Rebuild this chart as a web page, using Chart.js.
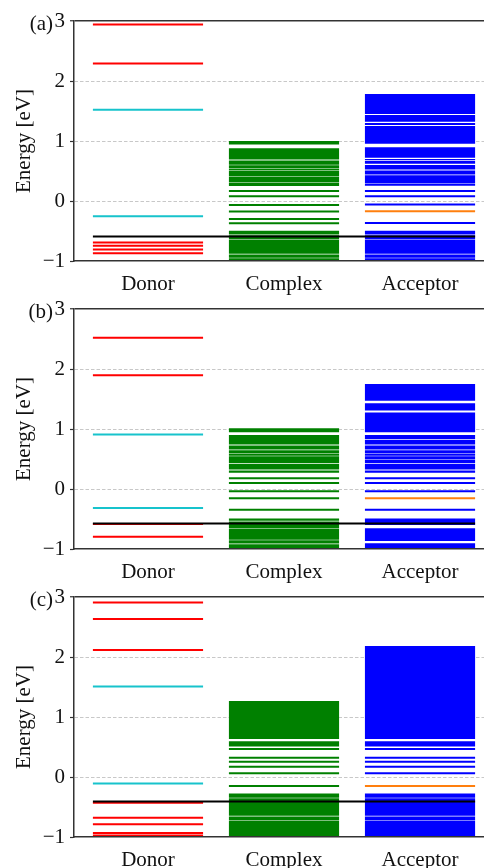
<!DOCTYPE html>
<html><head><meta charset="utf-8">
<script src="https://cdn.jsdelivr.net/npm/chart.js@4.4.1/dist/chart.umd.min.js"></script>
<style>
html,body{margin:0;padding:0;background:#fff;overflow:hidden;}
#wrap{position:relative;width:484px;height:868px;overflow:hidden;background:#fff;}
#wrap canvas{position:absolute;left:0;}
</style></head><body>
<div id="wrap">
<canvas id="c0" width="500" height="310" style="top:0px"></canvas>
<canvas id="c1" width="500" height="310" style="top:288px"></canvas>
<canvas id="c2" width="500" height="310" style="top:576px"></canvas>
</div>
<script>
// ---------------- data ----------------
const categories = ['Donor', 'Complex', 'Acceptor'];
const panelLabels = ['(a)', '(b)', '(c)'];
const yTickValues = [-1, 0, 1, 2, 3];
const yTitle = 'Energy [eV]';

// panel (a)
const donorRed_a = [2.94, 2.29, -0.69, -0.745, -0.81, -0.87];
const donorCyan_a = [1.52, -0.255];
const complexLevels_a = [0.165, 0.08, -0.065, -0.175, -0.30, -0.37];
const complexBands_a = [[0.94, 1.0], [0.70, 0.88], [0.675, 0.69], [0.605, 0.665], [0.55, 0.595], [0.51, 0.54], [0.41, 0.50], [0.31, 0.40], [0.25, 0.30], [-0.56, -0.495], [-0.64, -0.57], [-0.88, -0.65], [-0.945, -0.89], [-1.0, -0.955]];
const acceptorLevels_a = [0.165, 0.08, -0.06, -0.367];
const acceptorOrange_a = [-0.172];
const acceptorBands_a = [[1.45, 1.785], [1.32, 1.435], [1.265, 1.30], [0.955, 1.25], [0.72, 0.895], [0.68, 0.70], [0.62, 0.665], [0.535, 0.60], [0.51, 0.525], [0.44, 0.50], [0.30, 0.43], [0.255, 0.29], [-0.56, -0.495], [-0.64, -0.57], [-0.88, -0.65], [-0.945, -0.89], [-1.0, -0.955]];
const fermi_a = -0.59;

// panel (b)
const donorRed_b = [2.52, 1.894, -0.585, -0.797];
const donorCyan_b = [0.908, -0.318];
const complexLevels_b = [0.178, 0.10, -0.039, -0.155, -0.345];
const complexBands_b = [[0.945, 1.012], [0.74, 0.90], [0.66, 0.725], [0.60, 0.645], [0.555, 0.59], [0.435, 0.545], [0.325, 0.42], [0.272, 0.31], [-0.53, -0.49], [-0.65, -0.54], [-0.845, -0.66], [-0.91, -0.855], [-1.0, -0.92]];
const acceptorLevels_b = [0.178, 0.10, -0.039, -0.345];
const acceptorOrange_b = [-0.155];
const acceptorBands_b = [[1.47, 1.75], [1.31, 1.43], [0.945, 1.276], [0.835, 0.90], [0.74, 0.82], [0.66, 0.725], [0.60, 0.645], [0.555, 0.59], [0.50, 0.545], [0.435, 0.49], [0.325, 0.42], [0.272, 0.31], [-0.60, -0.49], [-0.865, -0.655], [-1.0, -0.905]];
const fermi_b = -0.575;

// panel (c)
const donorRed_c = [2.908, 2.635, 2.117, -0.428, -0.68, -0.788, -0.935, -0.975];
const donorCyan_c = [1.51, -0.109];
const complexLevels_c = [0.465, 0.322, 0.255, 0.17, 0.062, -0.148];
const complexBands_c = [[0.635, 1.265], [0.507, 0.596], [-0.345, -0.273], [-0.645, -0.355], [-0.725, -0.66], [-1.0, -0.735]];
const acceptorLevels_c = [0.465, 0.322, 0.255, 0.17, 0.062];
const acceptorOrange_c = [-0.148];
const acceptorBands_c = [[0.635, 2.185], [0.507, 0.596], [-0.345, -0.273], [-0.645, -0.355], [-0.725, -0.66], [-1.0, -0.735]];
const fermi_c = -0.41;

// ---------------- styling ----------------
const FONT = '"Liberation Serif", "Times New Roman", serif';
const TEXT = '#111';
const SPINE = '#333';
const HALF = 0.405; // half-width of a level in category units
const COLORS = {red: '#ff0000', cyan: '#17c3cc', green: '#008000', blue: '#0000ff', orange: '#ff7f0e', black: '#000000'};

function levelData(center, energies) {
  const pts = [];
  energies.forEach(e => {
    pts.push({x: center - HALF, y: e}, {x: center + HALF, y: e}, {x: center + HALF, y: null});
  });
  return pts;
}
function bandData(center, bands) {
  return bands.map(b => ({x: center, y: [b[0], b[1]]}));
}
function lineSet(data, color, order, width) {
  return {type: 'line', data, borderColor: color, borderWidth: width || 2, pointRadius: 0,
          pointHoverRadius: 0, fill: false, tension: 0, spanGaps: false, order};
}
function barSet(data, color) {
  return {type: 'bar', data, backgroundColor: color, borderWidth: 0, grouped: false,
          categoryPercentage: 1, barPercentage: 2 * HALF, order: 3};
}

const panelLabelPlugin = {
  id: 'panelLabel',
  afterDraw(chart, args, opts) {
    const {ctx, chartArea} = chart;
    ctx.save();
    ctx.font = '21px ' + FONT;
    ctx.fillStyle = TEXT;
    ctx.textAlign = 'right';
    ctx.textBaseline = 'middle';
    ctx.fillText(opts.text, chartArea.left - 21, chartArea.top + 3);
    ctx.restore();
  }
};

const panels = [
  {red: donorRed_a, cyan: donorCyan_a, cl: complexLevels_a, cb: complexBands_a, al: acceptorLevels_a, ao: acceptorOrange_a, ab: acceptorBands_a, f: fermi_a},
  {red: donorRed_b, cyan: donorCyan_b, cl: complexLevels_b, cb: complexBands_b, al: acceptorLevels_b, ao: acceptorOrange_b, ab: acceptorBands_b, f: fermi_b},
  {red: donorRed_c, cyan: donorCyan_c, cl: complexLevels_c, cb: complexBands_c, al: acceptorLevels_c, ao: acceptorOrange_c, ab: acceptorBands_c, f: fermi_c}
];

function yGridColor(ctx) {
  const v = ctx.tick ? ctx.tick.value : null;
  if (v === 3) return SPINE;
  if (v === -1) return 'rgba(0,0,0,0)';
  return '#c8c8c8';
}

panels.forEach((p, k) => {
  const datasets = [
    lineSet([{x: 0 - HALF, y: p.f}, {x: 2 + HALF, y: p.f}], COLORS.black, 0, 2),
    lineSet(levelData(0, p.red), COLORS.red, 1),
    lineSet(levelData(0, p.cyan), COLORS.cyan, 1),
    lineSet(levelData(1, p.cl), COLORS.green, 1),
    lineSet(levelData(2, p.al), COLORS.blue, 1),
    lineSet(levelData(2, p.ao), COLORS.orange, 1),
    barSet(bandData(1, p.cb), COLORS.green),
    barSet(bandData(2, p.ab), COLORS.blue)
  ];
  new Chart(document.getElementById('c' + k), {
    type: 'bar',
    data: {datasets},
    plugins: [panelLabelPlugin],
    options: {
      responsive: false,
      animation: false,
      devicePixelRatio: 1,
      layout: {padding: {left: 0, right: 6, top: 21, bottom: 0}},
      plugins: {legend: {display: false}, tooltip: {enabled: false}, panelLabel: {text: panelLabels[k]}},
      scales: {
        x: {
          type: 'linear', min: -0.544, max: 2.544, offset: false,
          grid: {display: false, drawTicks: false, offset: false},
          border: {display: true, color: SPINE, width: 1.5, z: 1},
          afterBuildTicks: s => { s.ticks = categories.map((c, i) => ({value: i})); },
          ticks: {autoSkip: false, maxRotation: 0, minRotation: 0, padding: 11, color: TEXT,
                  font: {family: FONT, size: 21}, callback: (v, i) => categories[i]},
          afterFit: s => { s.height = 49; }
        },
        y: {
          type: 'linear', min: -1, max: 3,
          afterBuildTicks: s => { s.ticks = yTickValues.map(v => ({value: v})); },
          grid: {color: yGridColor, lineWidth: ctx => (ctx.tick && ctx.tick.value === 3) ? 1.5 : 1,
                 drawTicks: true, tickLength: 4, tickColor: SPINE, tickWidth: 1.2},
          border: {display: true, color: SPINE, width: 1.5,
                   dash: ctx => (ctx.tick && ctx.tick.value >= 0 && ctx.tick.value <= 2) ? [3.5, 2] : []},
          ticks: {padding: 5, color: TEXT, font: {family: FONT, size: 21},
                  callback: v => v < 0 ? '\u2212' + Math.abs(v) : String(v)},
          title: {display: true, text: yTitle, color: TEXT, font: {family: FONT, size: 21}, padding: {top: 12, bottom: 0}},
          afterFit: s => { s.width = 74; }
        }
      }
    }
  });
});
</script>
</body></html>
